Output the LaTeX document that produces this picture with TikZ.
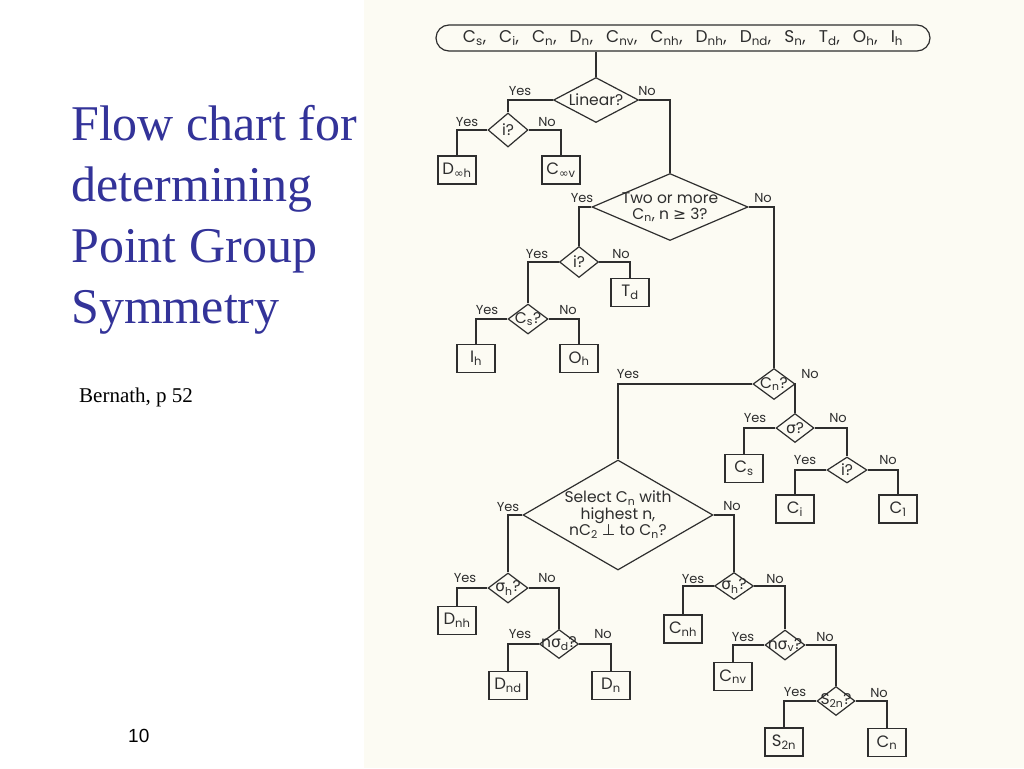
\documentclass[tikz,border=0pt]{standalone}
\usepackage{fontspec}
\setmainfont{Poppins}
\newfontfamily\symf{DejaVu Sans}
\newfontfamily\titlef{Liberation Serif}
\newfontfamily\arialf{Liberation Sans}
\usetikzlibrary{shapes.geometric,shapes.misc}
\newcommand\sbs[1]{\textsubscript{#1}}
\newcommand\sg{{\symf σ}}
\newcommand\infsym{{\symf ∞}}
\newcommand\gap{\hspace{13pt}}
\definecolor{lc}{HTML}{2E2E2E}
\definecolor{bg}{HTML}{FCFBF3}
\definecolor{tblue}{RGB}{51,51,153}
\tikzset{
  ln/.style={draw=lc, line width=1.2pt},
  dia/.style={diamond, draw=lc, line width=1.2pt, inner sep=0pt},
  gbox/.style={rectangle, draw=lc, line width=1.2pt, minimum width=38pt, minimum height=28pt, inner sep=0pt, text=lc, font=\fontsize{16.5}{16.5}\selectfont},
  dt/.style={font=\fontsize{15.5}{16.5}\selectfont, align=center, inner sep=0pt, text=lc},
  lab/.style={font=\fontsize{13}{13}\selectfont, inner sep=0pt, text=lc},
  ttl/.style={anchor=base west, inner sep=0pt, text=tblue, font=\titlef\fontsize{50}{58}\selectfont},
}
\begin{document}
\begin{tikzpicture}[x=1pt,y=-1pt]
\useasboundingbox (0,0) rectangle (1024,768);
\fill[white] (0,0) rectangle (1024,768);
\fill[bg] (364,0) rectangle (1024,768);

% title
\node[ttl] (t1) at (71,140) {Flow chart for};
\node[ttl] (t2) at (71,201) {determining};
\node[ttl] (t3) at (71,262) {Point Group};
\node[ttl] (t4) at (71,323) {Symmetry};
\node[anchor=base west, inner sep=0pt, font=\titlef\fontsize{21}{24}\selectfont] (ref) at (79,402) {Bernath, p 52};
\node[anchor=base west, inner sep=0pt, font=\arialf\fontsize{19}{22}\selectfont] (pg) at (128,742) {10};

% top box
\node[rounded rectangle, draw=lc, line width=1.2pt, minimum width=494pt, minimum height=26pt, inner sep=0pt, text=lc, font=\fontsize{17}{17}\selectfont] (top) at (683,38)
 {C\sbs{s},\gap C\sbs{i},\gap C\sbs{n},\gap D\sbs{n},\gap C\sbs{nv},\gap C\sbs{nh},\gap D\sbs{nh},\gap D\sbs{nd},\gap S\sbs{n},\gap T\sbs{d},\gap O\sbs{h},\gap I\sbs{h}};

% diamonds
\node[dia, minimum width=85pt, minimum height=45pt] (lin) at (596,100) {};
\node[dt] at (lin) {Linear?};
\node[dia, minimum width=40pt, minimum height=34pt] (i1) at (508,130) {};
\node[dt] at (i1) {i?};
\node[dia, minimum width=156pt, minimum height=67pt] (two) at (670,207) {};
\node[dt] at (two) {Two or more\\C\sbs{n}, n {\symf ≥} 3?};
\node[dia, minimum width=39pt, minimum height=31pt] (i2) at (579,262) {};
\node[dt] at (i2) {i?};
\node[dia, minimum width=40pt, minimum height=30pt] (csq) at (528,319) {};
\node[dt] at (csq) {C\sbs{s}?};
\node[dia, minimum width=42pt, minimum height=31pt] (cnq) at (774,384) {};
\node[dt] at (cnq) {C\sbs{n}?};
\node[dia, minimum width=38pt, minimum height=29pt] (sig) at (795,428) {};
\node[dt] at (sig) {\sg?};
\node[dia, minimum width=40pt, minimum height=26pt] (i3) at (847,470) {};
\node[dt] at (i3) {i?};
\node[dia, minimum width=190pt, minimum height=110pt] (sel) at (618,515) {};
\node[dt] at (sel) {Select C\sbs{n} with\\highest n,\\nC\sbs{2} {\symf ⊥} to C\sbs{n}?};
\node[dia, minimum width=40pt, minimum height=30pt] (sh1) at (508,588) {};
\node[dt] at (sh1) {\sg\sbs{h}?};
\node[dia, minimum width=39pt, minimum height=29pt] (nd) at (559,644) {};
\node[dt] at (nd) {n\sg\sbs{d}?};
\node[dia, minimum width=39pt, minimum height=27pt] (sh2) at (734,586) {};
\node[dt] at (sh2) {\sg\sbs{h}?};
\node[dia, minimum width=40pt, minimum height=30pt] (nv) at (785,645) {};
\node[dt] at (nv) {n\sg\sbs{v}?};
\node[dia, minimum width=38pt, minimum height=29pt] (s2q) at (836,701) {};
\node[dt] at (s2q) {S\sbs{2n}?};

% result boxes
\node[gbox] (dinfh) at (457,170) {D\sbs{\infsym h}};
\node[gbox] (cinfv) at (561,170) {C\sbs{\infsym v}};
\node[gbox] (td) at (630,292.5) {T\sbs{d}};
\node[gbox] (ih) at (476,358.5) {I\sbs{h}};
\node[gbox] (oh) at (579,358.5) {O\sbs{h}};
\node[gbox] (csb) at (744,468.5) {C\sbs{s}};
\node[gbox] (ci) at (795,509) {C\sbs{i}};
\node[gbox] (c1) at (898,509) {C\sbs{1}};
\node[gbox] (dnh) at (457,620.5) {D\sbs{nh}};
\node[gbox] (dnd) at (508,685.5) {D\sbs{nd}};
\node[gbox] (dn) at (611,685.5) {D\sbs{n}};
\node[gbox] (cnh) at (683,629) {C\sbs{nh}};
\node[gbox] (cnv) at (733,676.5) {C\sbs{nv}};
\node[gbox] (s2n) at (784,742) {S\sbs{2n}};
\node[gbox] (cnf) at (887,742.5) {C\sbs{n}};

% connectors
\draw[ln] (lin.north) -- (lin.north |- top.south);
\draw[ln] (lin.west) -| (i1.north);
\draw[ln] (lin.east) -| (two.north);
\draw[ln] (i1.west) -| (dinfh.north);
\draw[ln] (i1.east) -| (cinfv.north);
\draw[ln] (two.west) -| (i2.north);
\draw[ln] (two.east) -| (cnq.north);
\draw[ln] (i2.west) -| (csq.north);
\draw[ln] (i2.east) -| (td.north);
\draw[ln] (csq.west) -| (ih.north);
\draw[ln] (csq.east) -| (oh.north);
\draw[ln] (cnq.west) -| (sel.north);
\draw[ln] (cnq.east) -| (sig.north);
\draw[ln] (sig.west) -| (csb.north);
\draw[ln] (sig.east) -| (i3.north);
\draw[ln] (i3.west) -| (ci.north);
\draw[ln] (i3.east) -| (c1.north);
\draw[ln] (sel.west) -| (sh1.north);
\draw[ln] (sel.east) -| (sh2.north);
\draw[ln] (sh1.west) -| (dnh.north);
\draw[ln] (sh1.east) -| (nd.north);
\draw[ln] (nd.west) -| (dnd.north);
\draw[ln] (nd.east) -| (dn.north);
\draw[ln] (sh2.west) -| (cnh.north);
\draw[ln] (sh2.east) -| (nv.north);
\draw[ln] (nv.west) -| (cnv.north);
\draw[ln] (nv.east) -| (s2q.north);
\draw[ln] (s2q.west) -| (s2n.north);
\draw[ln] (s2q.east) -| (cnf.north);

% Yes / No labels
\node[lab] (y1) at (520,91) {Yes};
\node[lab] (n1) at (647,91) {No};
\node[lab] (y2) at (467,122) {Yes};
\node[lab] (n2) at (547,122) {No};
\node[lab] (y3) at (582,198) {Yes};
\node[lab] (n3) at (763,198) {No};
\node[lab] (y4) at (537,254) {Yes};
\node[lab] (n4) at (621,254) {No};
\node[lab] (y5) at (487,310) {Yes};
\node[lab] (n5) at (568,310) {No};
\node[lab] (y6) at (628,374) {Yes};
\node[lab] (n6) at (810,374) {No};
\node[lab] (y7) at (755,418) {Yes};
\node[lab] (n7) at (838,418) {No};
\node[lab] (y8) at (805,460) {Yes};
\node[lab] (n8) at (888,460) {No};
\node[lab] (y9) at (508,507) {Yes};
\node[lab] (n9) at (732,506) {No};
\node[lab] (y10) at (465,578) {Yes};
\node[lab] (n10) at (547,578) {No};
\node[lab] (y11) at (520,634) {Yes};
\node[lab] (n11) at (603,634) {No};
\node[lab] (y12) at (693,579) {Yes};
\node[lab] (n12) at (775,579) {No};
\node[lab] (y13) at (743,637) {Yes};
\node[lab] (n13) at (825,637) {No};
\node[lab] (y14) at (795,692) {Yes};
\node[lab] (n14) at (879,693) {No};
\end{tikzpicture}
\end{document}
